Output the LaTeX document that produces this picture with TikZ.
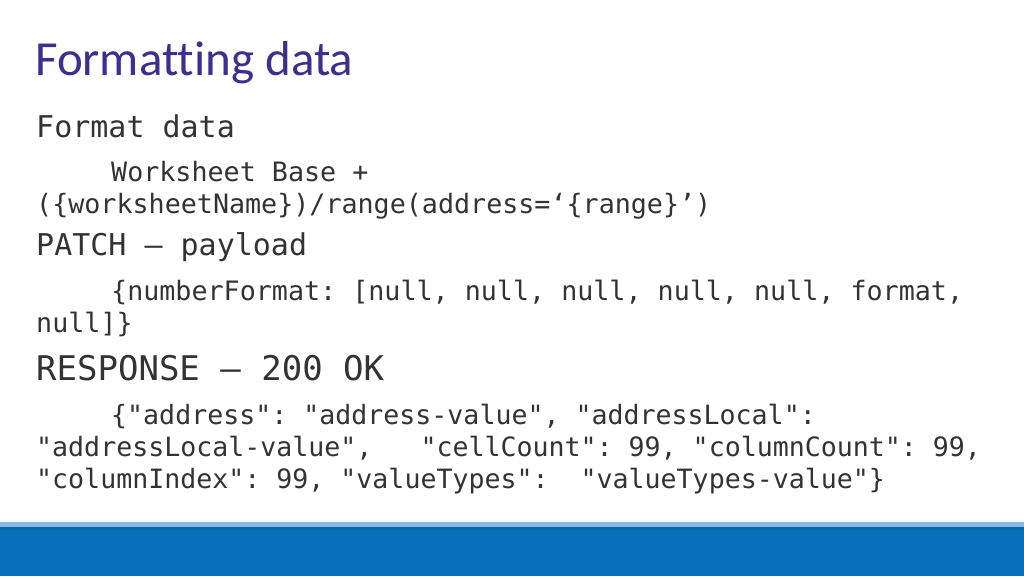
\documentclass[tikz,border=0pt]{standalone}
\usepackage{fontspec}
\setmainfont{Carlito}[Ligatures={NoCommon}]
\setmonofont{DejaVu Sans Mono}
\definecolor{titlepurple}{HTML}{3B2F8F}
\definecolor{bodygray}{HTML}{333333}
\definecolor{bandblue}{HTML}{0770BA}
\definecolor{banddark}{HTML}{0A66AC}
\definecolor{bandlight}{HTML}{86B8E4}
\begin{document}
\begin{tikzpicture}[x=1pt,y=-1pt,
  line/.style={anchor=base west,inner sep=0pt,text=bodygray,font=\ttfamily}]
  \useasboundingbox[fill=white] (0,0) rectangle (1024,576);
  % Bottom band
  \fill[bandlight] (0,522) rectangle (1024,527);
  \fill[bandblue] (0,527) rectangle (1024,576);
  \fill[banddark] (0,527) rectangle (1024,530);

  % Title
  \node[anchor=base west,inner sep=0pt,text=titlepurple,font=\fontsize{49}{52}\selectfont] (title) at (35,75) {Formatting data};

  % Request
  \node[line,font=\ttfamily\fontsize{30}{32}\selectfont] (fmt) at (36,137) {Format data};
  \node[line,font=\ttfamily\fontsize{26.7}{30}\selectfont] (url1) at (111,181) {Worksheet Base +};
  \node[line,font=\ttfamily\fontsize{26.7}{30}\selectfont] (url2) at (36,213) {(\{worksheetName\})/range(address=‘\{range\}’)};

  % Payload
  \node[line,font=\ttfamily\fontsize{30}{32}\selectfont] (patch) at (36,255) {PATCH – payload};
  \node[line,font=\ttfamily\fontsize{26.7}{30}\selectfont] (pay1) at (111,300) {\{numberFormat: [null, null, null, null, null, format,};
  \node[line,font=\ttfamily\fontsize{26.7}{30}\selectfont] (pay2) at (36,332) {null]\}};

  % Response
  \node[line,font=\ttfamily\fontsize{34}{36}\selectfont] (resp) at (36,380) {RESPONSE – 200 OK};
  \node[line,font=\ttfamily\fontsize{26.6}{30}\selectfont] (res1) at (111,424) {\{"address": "address-value", "addressLocal":};
  \node[line,font=\ttfamily\fontsize{26.6}{30}\selectfont] (res2) at (36,456) {"addressLocal-value",~~~"cellCount": 99, "columnCount": 99,};
  \node[line,font=\ttfamily\fontsize{26.6}{30}\selectfont] (res3) at (36,488) {"columnIndex": 99, "valueTypes":~~"valueTypes-value"\}};
\end{tikzpicture}
\end{document}
